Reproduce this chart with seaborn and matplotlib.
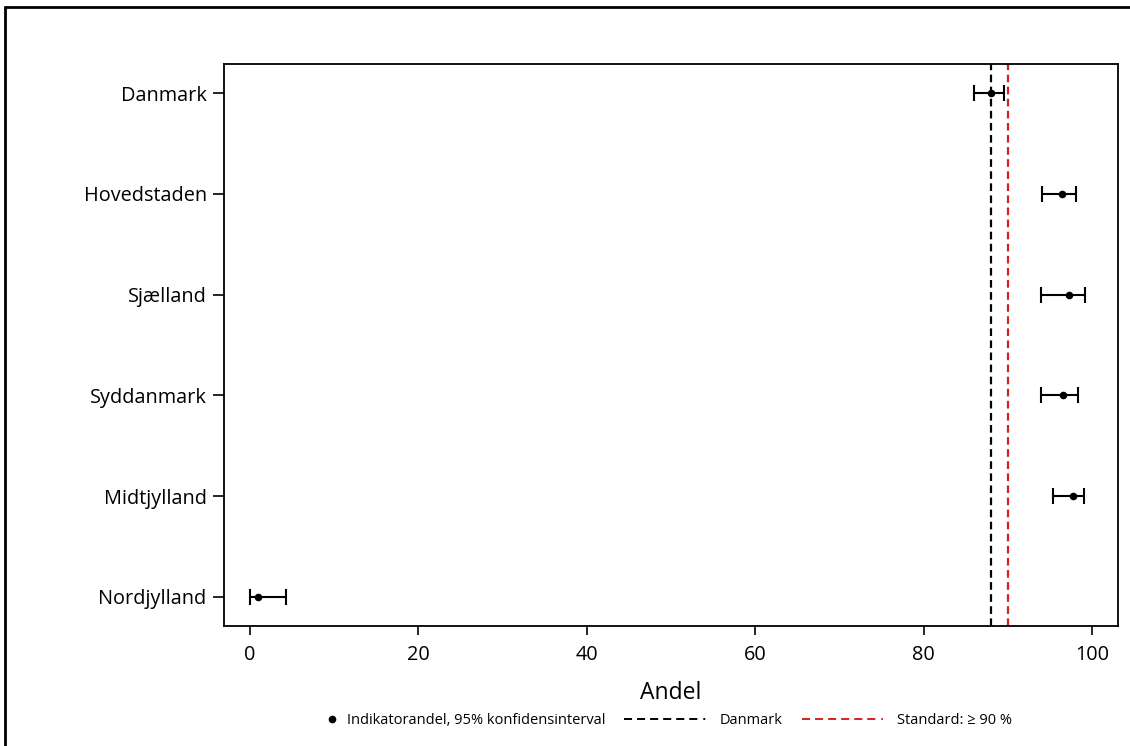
import numpy as np
import pandas as pd
import seaborn as sns
import matplotlib.pyplot as plt
from matplotlib.lines import Line2D
from matplotlib.legend_handler import HandlerLine2D

regions = ["Danmark", "Hovedstaden", "Sjælland", "Syddanmark", "Midtjylland", "Nordjylland"]
andel = [88.0, 96.5, 97.3, 96.6, 97.7, 0.9]
ci_low = [86.0, 94.1, 94.0, 93.9, 95.4, 0.0]
ci_high = [89.6, 98.1, 99.2, 98.3, 99.1, 4.3]
danmark_ref = 88.0
standard = 90.0
xticks = [0, 20, 40, 60, 80, 100]

sns.set_theme(style="white")
plt.rcParams['font.family'] = ['Open Sans', 'DejaVu Sans']
plt.rcParams['text.color'] = 'black'
plt.rcParams['axes.labelcolor'] = 'black'
plt.rcParams['xtick.color'] = 'black'
plt.rcParams['ytick.color'] = 'black'
plt.rcParams['lines.scale_dashes'] = False

df = pd.DataFrame({"region": regions, "andel": andel, "lo": ci_low, "hi": ci_high})
df["pos"] = np.arange(len(df))

fig = plt.figure(figsize=(11.3, 7.46), dpi=100)
ax = fig.add_axes([224/1130, 1-626/746, (1118-224)/1130, (626-64)/746])

ax.axvline(danmark_ref, color="black", linestyle=(0, (5.5, 3.2)), linewidth=1.6, zorder=1)
ax.axvline(standard, color="#d62020", linestyle=(0, (5.5, 3.2)), linewidth=1.6, zorder=1)

xerr = np.array([df["andel"] - df["lo"], df["hi"] - df["andel"]])
ax.errorbar(df["andel"], df["pos"], xerr=xerr, fmt="none", ecolor="black",
            elinewidth=1.5, capsize=6, capthick=1.5, zorder=2)
sns.scatterplot(data=df, x="andel", y="pos", color="black", s=30, edgecolor="black",
                linewidth=0, ax=ax, zorder=3, legend=False)

ax.set_xlim(-3.1, 103.1)
ax.set_ylim(len(df) - 1 + 0.29, -0.29)
ax.set_yticks(df["pos"])
ax.set_yticklabels(regions)
ax.set_xticks(xticks)
ax.set_xlabel("Andel", fontsize=16.5, labelpad=12)
ax.set_ylabel("")
ax.tick_params(axis="both", which="major", labelsize=14.3, width=1.2,
               direction="out", color="black", labelcolor="black", left=True, bottom=True)
ax.tick_params(axis="y", length=8, pad=4.5)
ax.tick_params(axis="x", length=6.5, pad=7)
for s in ax.spines.values():
    s.set_visible(True)
    s.set_color("black")
    s.set_linewidth(1.3)


class RightDot(HandlerLine2D):
    def get_xdata(self, legend, xdescent, ydescent, width, height, fontsize):
        xd = [-xdescent + width - 2, -xdescent + width]
        return xd, [-xdescent + width - 1]


legend_dash = (0, (5.8, 3.6) * 5 + (5.8, 4.3, 1.4, 20))
handles = [
    Line2D([], [], marker="o", color="black", linestyle="none", markersize=4.5),
    Line2D([], [], color="black", linestyle=legend_dash, linewidth=1.4),
    Line2D([], [], color="#d62020", linestyle=legend_dash, linewidth=1.4),
]
labels = ["Indikatorandel, 95% konfidensinterval", "Danmark", "Standard: ≥ 90 %"]
fig.legend(handles, labels, loc="center", bbox_to_anchor=(0.559, 1-721/746), ncol=3,
           frameon=False, fontsize=10.5, handlelength=5.6, columnspacing=1.3, handletextpad=0.95,
           handler_map={handles[0]: RightDot()})

# outer frame (top and left edges)
fig.add_artist(Line2D([5/1130, 1], [1-7/746, 1-7/746], color="black", linewidth=2, transform=fig.transFigure))
fig.add_artist(Line2D([5/1130, 5/1130], [0, 1-7/746], color="black", linewidth=2, transform=fig.transFigure))

fig.savefig("out.png", dpi=100, facecolor="white")
